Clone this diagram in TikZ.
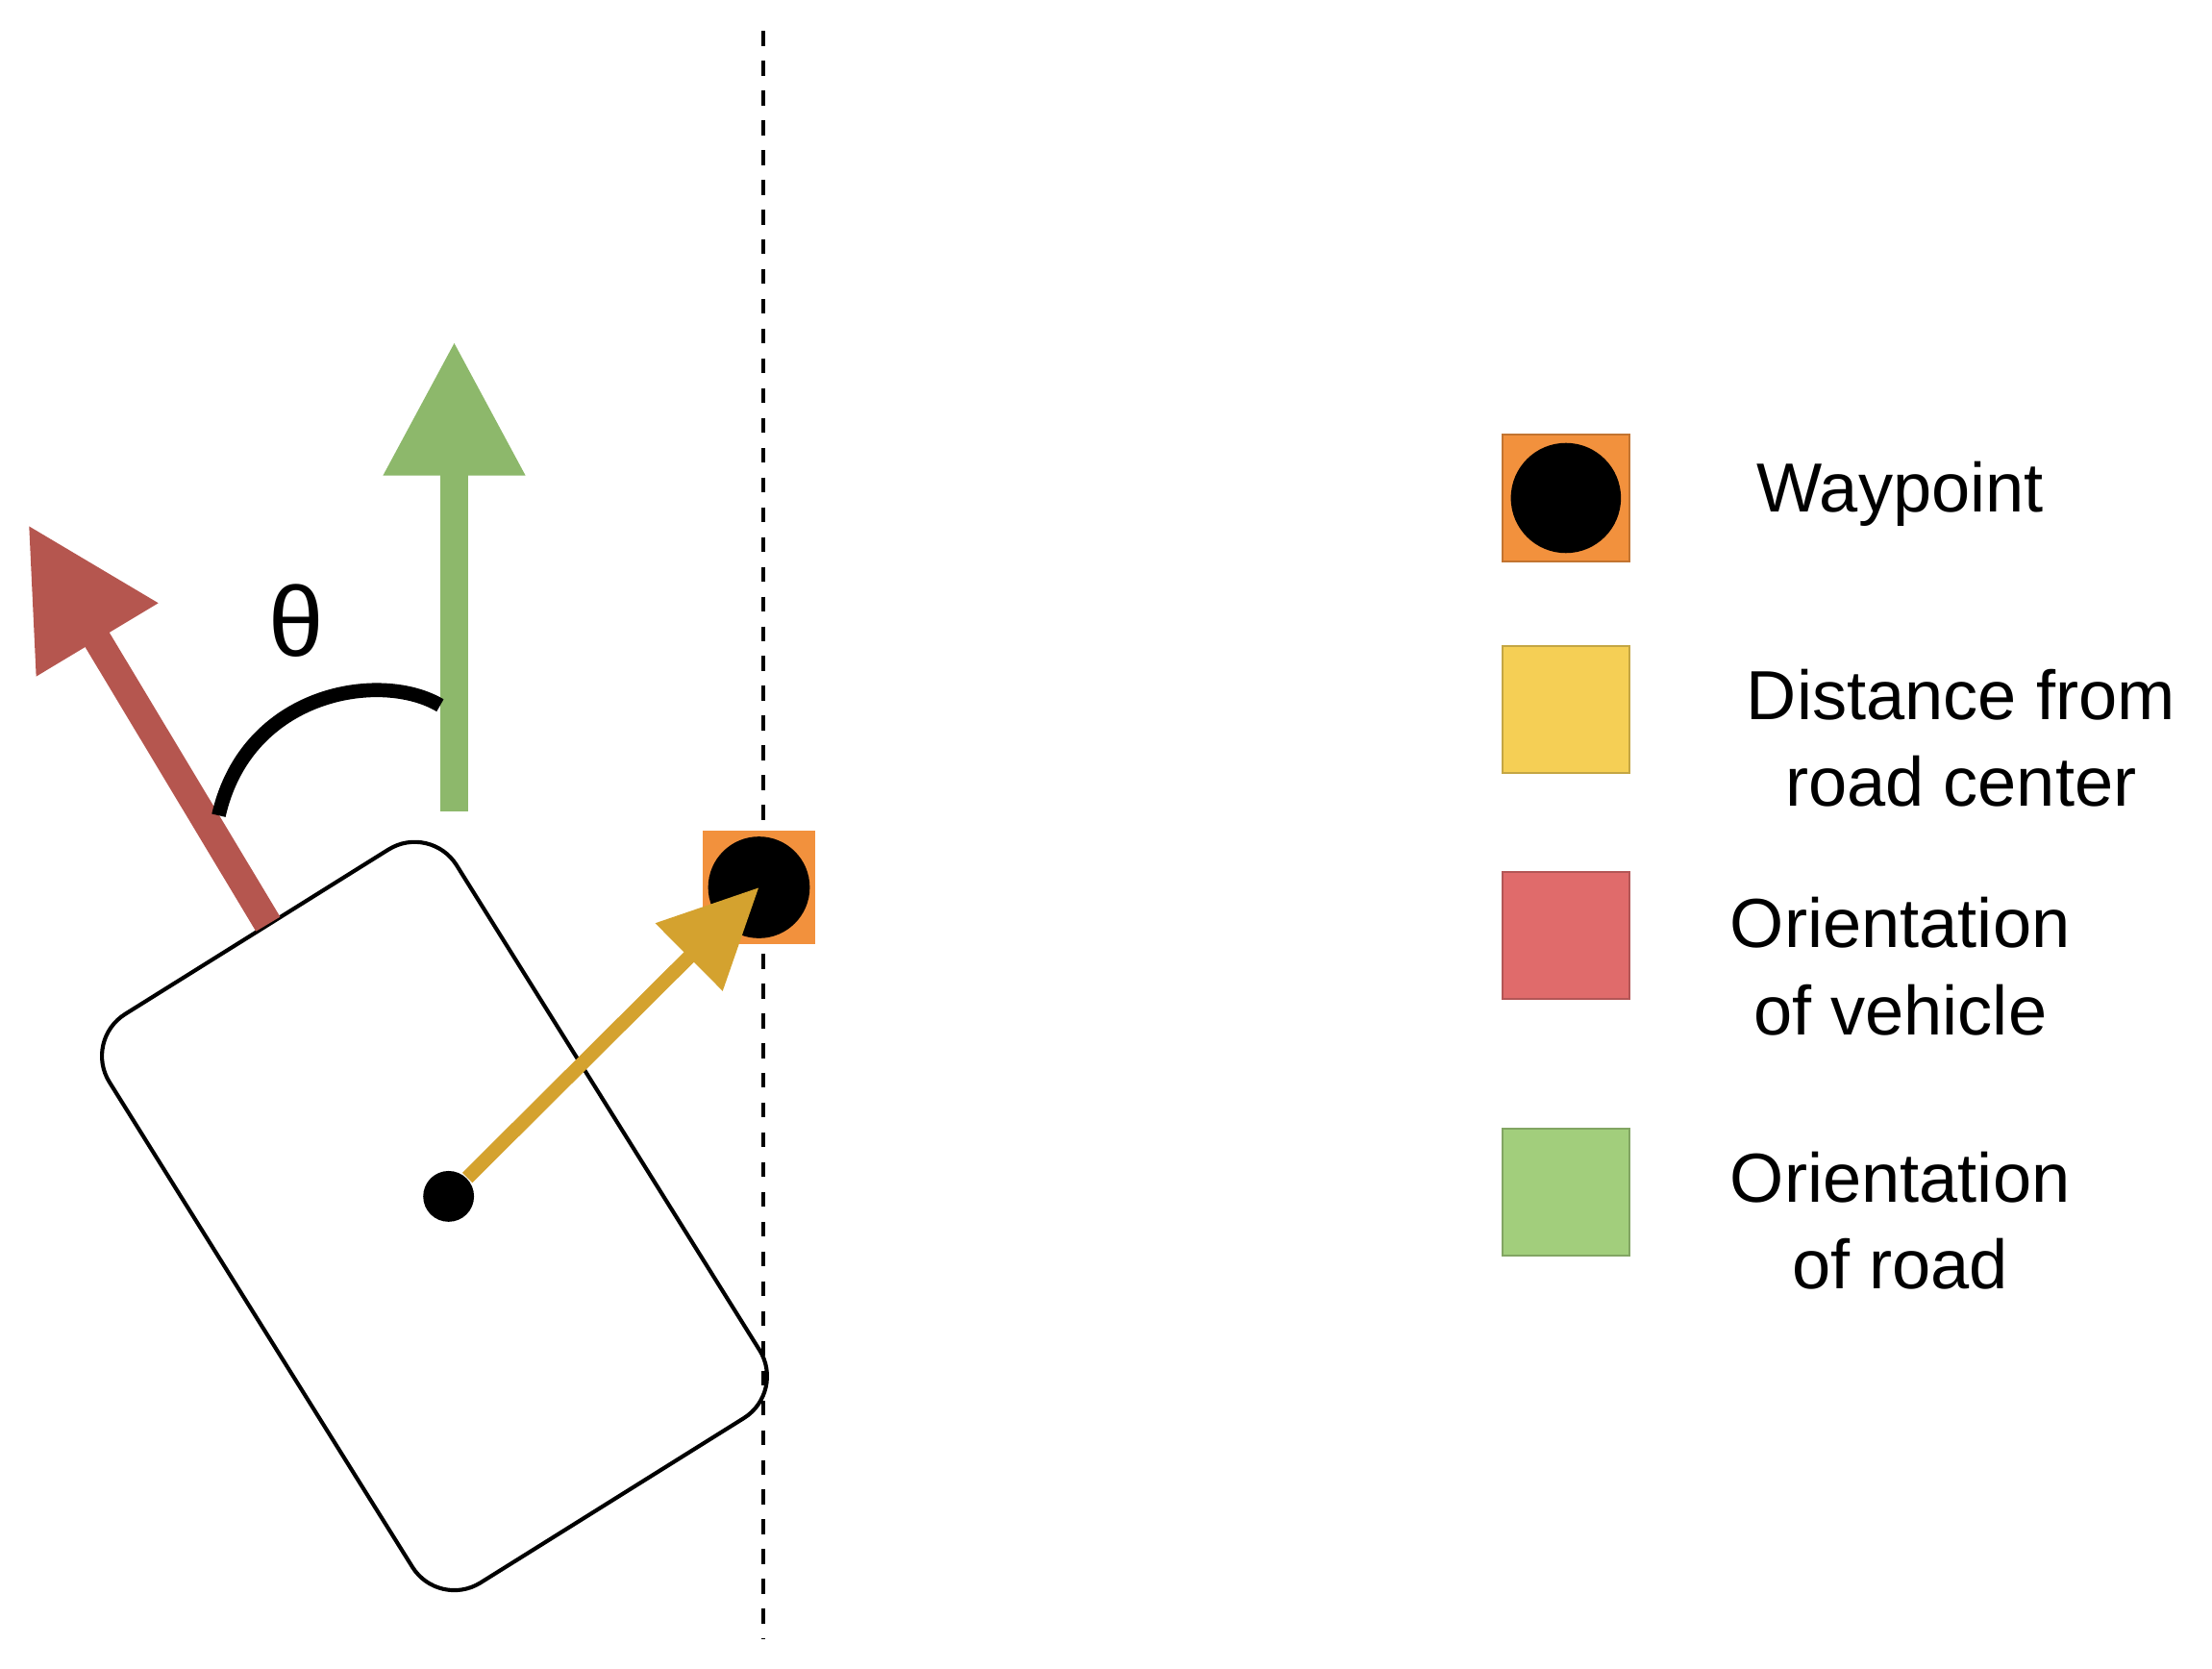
\documentclass[tikz,border=0pt]{standalone}
\usepackage{fontspec}
\setmainfont{Liberation Sans}
\usetikzlibrary{arrows.meta,positioning}
\definecolor{vehred}{HTML}{B5564F}
\definecolor{roadgreen}{HTML}{8DB86B}
\definecolor{distgold}{HTML}{D4A22F}
\definecolor{wporange}{HTML}{F2913D}
\definecolor{legyellow}{HTML}{F5CF55}
\definecolor{legred}{HTML}{E06B6B}
\definecolor{leggreen}{HTML}{A2CE7C}
\tikzset{
  legbox/.style={draw=#1!80!black,fill=#1,minimum size=0.9cm,inner sep=0pt},
  legtext/.style={align=center,font=\fontsize{14}{17.5}\selectfont},
  bigarrow/.style={draw=#1,line width=0.2cm,-{Triangle[length=0.95cm,width=0.95cm]}}
}
\begin{document}
\begin{tikzpicture}[x=0.01cm,y=-0.01cm]
			\useasboundingbox (0,0) rectangle (1568,1183);
			% road center
			\coordinate (rtop) at (541,22);
			\coordinate (rbot) at (541,1162);
			\draw[black,dashed,thick] (rtop) -- (rbot);
			% vehicle
			\node[draw,thick,rounded corners=0.35cm,minimum width=2.9cm,minimum height=4.75cm,rotate=32] (car) at (308,862) {};
			\node[circle,fill=black,inner sep=0pt,minimum size=0.36cm] (cg) at (318,848) {};
			% arrows
			\coordinate (redbase) at (190,655);
			\coordinate (redtip) at (20,372);
			\coordinate (grbase) at (322,575);
			\coordinate (grtip) at (322,242);
			\draw[bigarrow=vehred] (redbase) -- (redtip);
			\draw[bigarrow=roadgreen] (grbase) -- (grtip);
			\coordinate (arcA) at (155,578);
			\coordinate (arcB) at (312,500);
			\draw[black,line width=0.1cm] (arcA) .. controls (175,490) and (270,475) .. (arcB);
			\node[font=\fontsize{20}{20}\selectfont] (theta) at (210,440) {θ};
			% waypoint
			\node[fill=wporange,minimum size=0.8cm,inner sep=0pt] (wp) at (538,629) {};
			\node[circle,fill=black,minimum size=0.72cm,inner sep=0pt] (wpdot) at (wp) {};
			\draw[draw=distgold,line width=0.1cm,-{Triangle[length=0.7cm,width=0.65cm]}] (cg) -- (wpdot.center);
			% legend
			\node[legbox=wporange] (l1) at (1110,353) {};
			\node[circle,fill=black,minimum size=0.78cm,inner sep=0pt] at (l1) {};
			\node[legbox=legyellow] (l2) at (1110,503) {};
			\node[legbox=legred] (l3) at (1110,663) {};
			\node[legbox=leggreen] (l4) at (1110,845) {};
			\node[legtext] (t1) at (1347,350) {Waypoint};
			\node[legtext] (t2) at (1390,523) {Distance from\\road center};
			\node[legtext] (t3) at (1347,685) {Orientation\\of vehicle};
			\node[legtext] (t4) at (1347,865) {Orientation\\of road};
		\end{tikzpicture}
\end{document}
